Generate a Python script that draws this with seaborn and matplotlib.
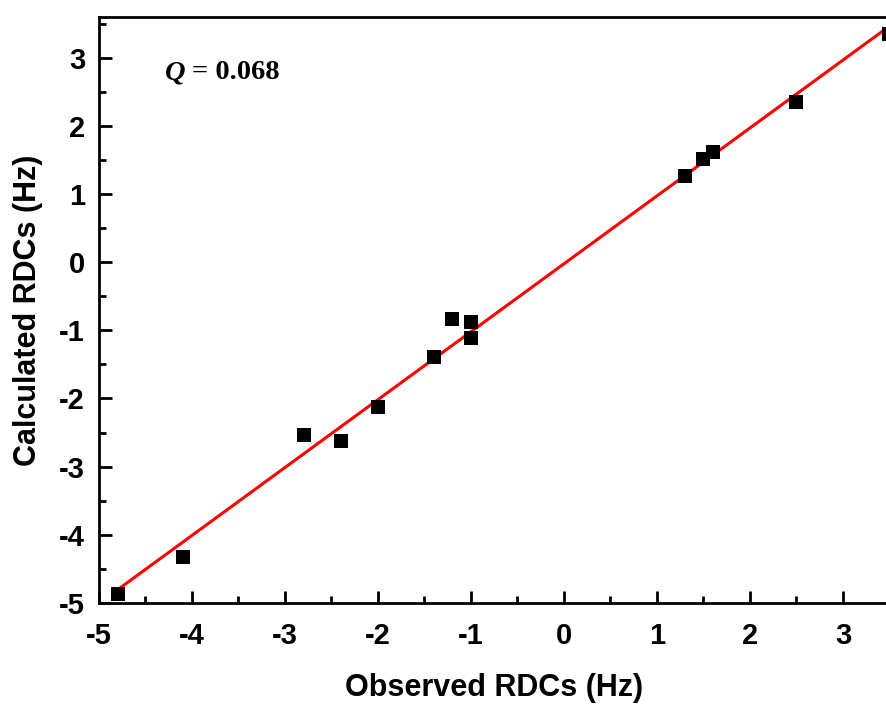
import matplotlib
matplotlib.use('Agg')
import matplotlib.pyplot as plt
from matplotlib.ticker import MultipleLocator
import pandas as pd
import seaborn as sns

sns.set_style('ticks')
plt.rcParams['font.family'] = ['Liberation Sans', 'DejaVu Sans']
plt.rcParams['axes.unicode_minus'] = False
plt.rcParams['text.color'] = 'black'
plt.rcParams['axes.labelcolor'] = 'black'
plt.rcParams['xtick.color'] = 'black'
plt.rcParams['ytick.color'] = 'black'

# observed vs calculated RDCs (Hz)
observed = [-4.8, -4.1, -2.8, -2.4, -2.0, -1.4, -1.2, -1.0, -1.0, 1.3, 1.5, 1.6, 2.5, 3.5]
calculated = [-4.87, -4.32, -2.54, -2.62, -2.13, -1.39, -0.83, -0.88, -1.11, 1.26, 1.52, 1.62, 2.35, 3.34]

df = pd.DataFrame({'observed': observed, 'calculated': calculated})

fig = plt.figure(figsize=(8.87, 7.04), dpi=100)
ax = fig.add_axes([99 / 887, 101 / 704, 790.5 / 887, 586.3 / 704])

sns.regplot(data=df, x='observed', y='calculated', ci=None, truncate=True, ax=ax,
            marker='s', scatter_kws={'color': 'black', 'alpha': 1, 's': 110, 'linewidths': 0, 'zorder': 3},
            line_kws={'color': '#ff0000', 'lw': 2.2, 'zorder': 2})

ax.set_xlim(-5, 3.5)
ax.set_ylim(-5, 3.6)
ax.xaxis.set_major_locator(MultipleLocator(1))
ax.xaxis.set_minor_locator(MultipleLocator(0.5))
ax.yaxis.set_major_locator(MultipleLocator(1))
ax.yaxis.set_minor_locator(MultipleLocator(0.5))
ax.tick_params(which='both', direction='in', width=2, top=False, right=False, labelsize=21)
ax.tick_params(axis='x', pad=14)
ax.tick_params(axis='y', pad=10)
ax.tick_params(which='major', length=9)
ax.tick_params(which='minor', length=5)
for lab in ax.get_xticklabels() + ax.get_yticklabels():
    lab.set_fontweight('bold')
for sp in ax.spines.values():
    sp.set_linewidth(2)
    sp.set_color('black')

ax.set_xlabel('Observed RDCs (Hz)', fontsize=22, fontweight='bold', labelpad=16)
ax.set_ylabel('Calculated RDCs (Hz)', fontsize=22, fontweight='bold', labelpad=12)

ax.text(-4.29, 2.78, 'Q', fontsize=20.5, fontweight='bold', style='italic',
        family=['Liberation Serif'], va='center')
ax.text(-4.0, 2.78, '= 0.068', fontsize=20.5, fontweight='bold',
        family=['Liberation Serif'], va='center')

fig.savefig('out.png', dpi=100)
